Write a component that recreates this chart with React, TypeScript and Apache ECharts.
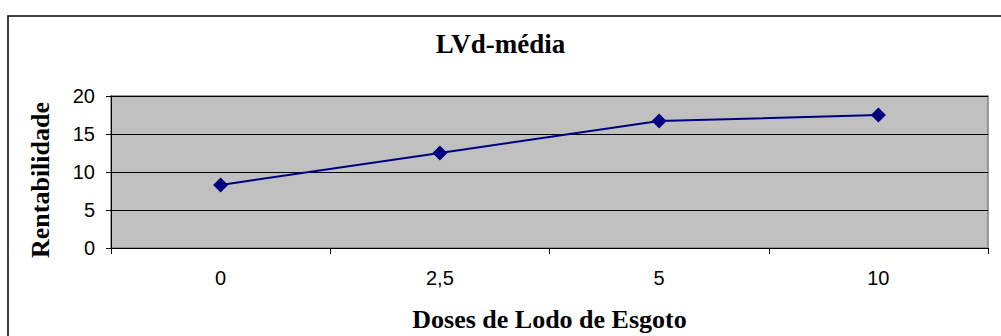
import React, { useEffect, useRef } from "react";
import * as echarts from "echarts";

const categories = ["0", "2,5", "5", "10"];
const values = [8.3, 12.5, 16.7, 17.5];
const yTicks = { min: 0, max: 20, interval: 5 };
const titleText = "LVd-média";
const yName = "Rentabilidade";
const xName = "Doses de Lodo de Esgoto";

export default function App() {
  const ref = useRef<HTMLDivElement>(null);
  useEffect(() => {
    document.body.style.margin = "0";
    document.body.style.overflow = "hidden";
    const chart = echarts.init(ref.current!, null, { renderer: "svg" });
    const serif = "'Liberation Serif', 'Times New Roman', serif";
    const sans = "'Liberation Sans', Arial, sans-serif";
    chart.setOption({
      animation: false,
      backgroundColor: "#ffffff",
      title: {
        text: titleText,
        left: "center",
        top: 30,
        padding: 0,
        textStyle: { fontFamily: serif, fontWeight: "bold", fontSize: 27, color: "#000" },
      },
      graphic: [
        {
          type: "polyline",
          shape: { points: [[8, 340], [8, 16], [1010, 16]] },
          style: { stroke: "#000", lineWidth: 1.5, fill: "none" },
          silent: true,
        },
      ],
      grid: {
        left: 111,
        top: 96,
        width: 877,
        height: 152,
        show: true,
        backgroundColor: "#C0C0C0",
        borderColor: "#808080",
        borderWidth: 1.5,
      },
      xAxis: {
        type: "category",
        data: categories,
        boundaryGap: true,
        axisLine: { show: true, lineStyle: { color: "#000", width: 1 } },
        axisTick: { show: true, length: 6, inside: false, lineStyle: { color: "#000" } },
        axisLabel: { fontFamily: sans, fontSize: 20, color: "#000", margin: 20 },
        name: xName,
        nameLocation: "middle",
        nameGap: 58,
        nameTextStyle: { fontFamily: serif, fontWeight: "bold", fontSize: 26, color: "#000" },
        splitLine: { show: false },
      },
      yAxis: {
        type: "value",
        min: yTicks.min,
        max: yTicks.max,
        interval: yTicks.interval,
        axisLine: { show: true, lineStyle: { color: "#000", width: 1 } },
        axisTick: { show: true, length: 5, inside: false, lineStyle: { color: "#000" } },
        axisLabel: { fontFamily: sans, fontSize: 20, color: "#000", margin: 16 },
        splitLine: { show: true, lineStyle: { color: "#000", width: 1 } },
        name: yName,
        nameLocation: "middle",
        nameRotate: 90,
        nameGap: 58,
        nameTextStyle: {
          fontFamily: serif,
          fontWeight: "bold",
          fontSize: 26,
          color: "#000",
          padding: [0, 16, 0, 0],
        },
      },
      series: [
        {
          type: "line",
          data: values,
          symbol: "diamond",
          symbolSize: 15,
          showSymbol: true,
          lineStyle: { color: "#000080", width: 2 },
          itemStyle: { color: "#000080" },
        },
      ],
    });
    return () => chart.dispose();
  }, []);
  return (
    <div style={{ width: 1001, height: 336, overflow: "hidden" }}>
      <div ref={ref} style={{ width: 1001, height: 336 }} />
    </div>
  );
}
